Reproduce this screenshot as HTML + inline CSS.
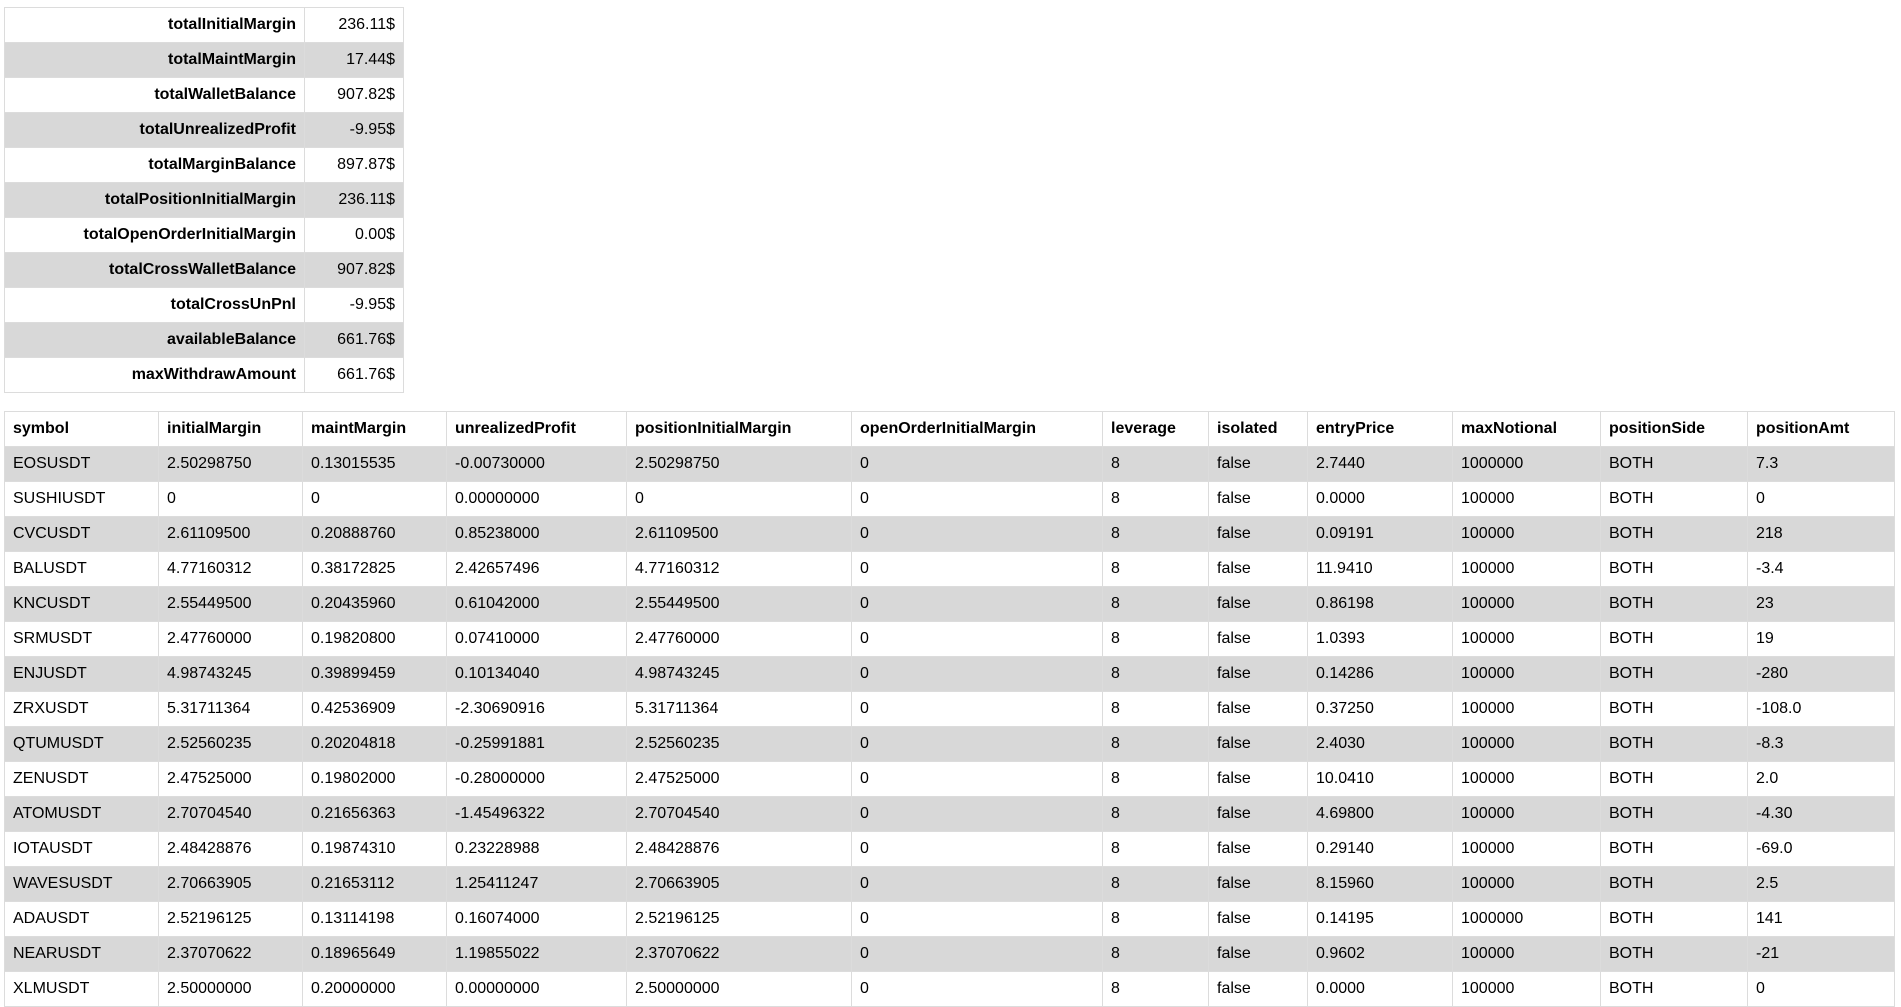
<!DOCTYPE html>
<html><head><meta charset="utf-8"><style>
body{margin:0;background:#fff;font-family:"Liberation Sans",Arial,sans-serif;font-size:16px;color:#000;width:1901px;height:975px;overflow:hidden}
table{border-collapse:collapse;table-layout:fixed;position:absolute}
td,th{border:1px solid #dcdcdc;height:35px;padding:0 8px;white-space:nowrap;overflow:hidden;box-sizing:border-box}
tr:nth-child(even) td{background:#d8d8d8}
#summary{left:4px;top:7px;width:399px}
#summary th{text-align:right;font-weight:bold}
#summary td{text-align:right}
#summary tr:nth-child(even) th{background:#d8d8d8}
#positions{left:4px;top:411px;width:1890px}
#positions th{text-align:left;font-weight:bold}
#positions tbody tr:nth-child(odd) td{background:#d8d8d8}
#positions tbody tr:nth-child(even) td{background:#fff}
</style></head><body>
<table id="summary">
<colgroup><col style="width:300px"><col style="width:99px"></colgroup>
<tbody id="sbody"></tbody></table>
<table id="positions">
<colgroup>
<col style="width:154px"><col style="width:144px"><col style="width:144px"><col style="width:180px"><col style="width:225px"><col style="width:251px"><col style="width:106px"><col style="width:99px"><col style="width:145px"><col style="width:148px"><col style="width:147px"><col style="width:147px">
</colgroup>
<thead><tr id="phead"></tr></thead>
<tbody id="pbody"></tbody></table>
<script>
const summaryLabels=["totalInitialMargin","totalMaintMargin","totalWalletBalance","totalUnrealizedProfit","totalMarginBalance","totalPositionInitialMargin","totalOpenOrderInitialMargin","totalCrossWalletBalance","totalCrossUnPnl","availableBalance","maxWithdrawAmount"];
const summaryValues=["236.11$","17.44$","907.82$","-9.95$","897.87$","236.11$","0.00$","907.82$","-9.95$","661.76$","661.76$"];
const headers=["symbol","initialMargin","maintMargin","unrealizedProfit","positionInitialMargin","openOrderInitialMargin","leverage","isolated","entryPrice","maxNotional","positionSide","positionAmt"];
const rows=[
["EOSUSDT","2.50298750","0.13015535","-0.00730000","2.50298750","0","8","false","2.7440","1000000","BOTH","7.3"],
["SUSHIUSDT","0","0","0.00000000","0","0","8","false","0.0000","100000","BOTH","0"],
["CVCUSDT","2.61109500","0.20888760","0.85238000","2.61109500","0","8","false","0.09191","100000","BOTH","218"],
["BALUSDT","4.77160312","0.38172825","2.42657496","4.77160312","0","8","false","11.9410","100000","BOTH","-3.4"],
["KNCUSDT","2.55449500","0.20435960","0.61042000","2.55449500","0","8","false","0.86198","100000","BOTH","23"],
["SRMUSDT","2.47760000","0.19820800","0.07410000","2.47760000","0","8","false","1.0393","100000","BOTH","19"],
["ENJUSDT","4.98743245","0.39899459","0.10134040","4.98743245","0","8","false","0.14286","100000","BOTH","-280"],
["ZRXUSDT","5.31711364","0.42536909","-2.30690916","5.31711364","0","8","false","0.37250","100000","BOTH","-108.0"],
["QTUMUSDT","2.52560235","0.20204818","-0.25991881","2.52560235","0","8","false","2.4030","100000","BOTH","-8.3"],
["ZENUSDT","2.47525000","0.19802000","-0.28000000","2.47525000","0","8","false","10.0410","100000","BOTH","2.0"],
["ATOMUSDT","2.70704540","0.21656363","-1.45496322","2.70704540","0","8","false","4.69800","100000","BOTH","-4.30"],
["IOTAUSDT","2.48428876","0.19874310","0.23228988","2.48428876","0","8","false","0.29140","100000","BOTH","-69.0"],
["WAVESUSDT","2.70663905","0.21653112","1.25411247","2.70663905","0","8","false","8.15960","100000","BOTH","2.5"],
["ADAUSDT","2.52196125","0.13114198","0.16074000","2.52196125","0","8","false","0.14195","1000000","BOTH","141"],
["NEARUSDT","2.37070622","0.18965649","1.19855022","2.37070622","0","8","false","0.9602","100000","BOTH","-21"],
["XLMUSDT","2.50000000","0.20000000","0.00000000","2.50000000","0","8","false","0.0000","100000","BOTH","0"]
];
const sb=document.getElementById('sbody');
summaryLabels.forEach((l,i)=>{
  const tr=document.createElement('tr');
  
  
  const th=document.createElement('th');th.textContent=l;
  
  
  const td=document.createElement('td');td.textContent=summaryValues[i];
  
  
  tr.appendChild(th);tr.appendChild(td);sb.appendChild(tr);
});
const ph=document.getElementById('phead');
headers.forEach(h=>{
  const th=document.createElement('th');th.textContent=h;
  
  
  ph.appendChild(th);
});
const pb=document.getElementById('pbody');
rows.forEach(r=>{
  const tr=document.createElement('tr');
  
  
  r.forEach(c=>{
    const td=document.createElement('td');td.textContent=c;
    
    
    tr.appendChild(td);
  });
  pb.appendChild(tr);
});
</script>
</body></html>
